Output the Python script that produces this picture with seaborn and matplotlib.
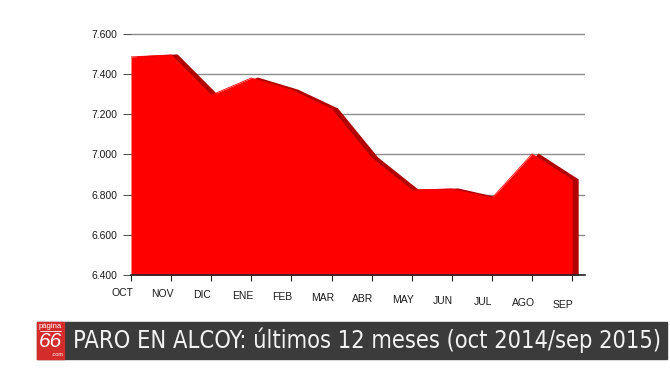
import numpy as np
import pandas as pd
import seaborn as sns
import matplotlib.pyplot as plt
import matplotlib.transforms as mtransforms
from matplotlib.patches import Rectangle

# data
meses = ["OCT", "NOV", "DIC", "ENE", "FEB", "MAR", "ABR", "MAY", "JUN", "JUL", "AGO", "SEP"]
parados = [7485, 7495, 7295, 7380, 7320, 7226, 6982, 6823, 6828, 6783, 7002, 6873]
yticks = [6400, 6600, 6800, 7000, 7200, 7400, 7600]
titulo = "PARO EN ALCOY: últimos 12 meses (oct 2014/sep 2015)"

df = pd.DataFrame({"mes": meses, "parados": parados})
df["i"] = np.arange(len(df))

# colors
red = "#FF0000"
darkred = "#B00000"
gridcol = "#8C8C8C"
bannercol = "#3B3B3B"

sns.set_style("white")
plt.rcParams['font.family'] = ['Liberation Sans', 'DejaVu Sans']

W, H = 670, 377
fig = plt.figure(figsize=(W / 100, H / 100), dpi=100)
# axes: x from 131 to 585 px, y from 275 (6400) up
ylo, yhi = 6400, 7650
px_per_unit = 40.2 / 200
top_px = 275 - (yhi - ylo) * px_per_unit
ax = fig.add_axes([131 / W, (H - 275) / H, (585 - 131) / W, (275 - top_px) / H])

# gridlines behind
for v in yticks:
    ax.axhline(v, color=gridcol, lw=1, zorder=0)

# depth face (shifted back)
ax.fill_between(df["i"] + 0.15, df["parados"] + 5, ylo, color=darkred, lw=0, zorder=1)
# front face
sns.lineplot(data=df, x="i", y="parados", color=red, lw=0.6, ax=ax, zorder=2)
ax.fill_between(df["i"], df["parados"], ylo, color=red, lw=0, zorder=2)

ax.set_xlim(0, 11.32)
ax.set_ylim(ylo, yhi)
ax.set_xlabel("")
ax.set_ylabel("")
ax.set_yticks(yticks)
ax.set_yticklabels([f"{v:,}".replace(",", ".") for v in yticks])
ax.set_xticks(df["i"])
ax.set_xticklabels(meses)
ax.tick_params(axis="y", length=6, width=0.8, color="#555555", pad=4, labelsize=7.5, labelcolor="#1A1A1A", direction="out", left=True)
ax.tick_params(axis="x", length=4, width=0.8, color="#222222", pad=5, labelsize=7.5, labelcolor="#1A1A1A", direction="out", bottom=True)
# labels drift down to the right, like the perspective in the original
for k, lab in enumerate(ax.get_xticklabels()):
    off = mtransforms.ScaledTranslation(-9 / 100, -(k * 1.1) / 100, fig.dpi_scale_trans)
    lab.set_transform(lab.get_transform() + off)

for s in ["top", "right", "left"]:
    ax.spines[s].set_visible(False)
ax.spines["bottom"].set_color("#222222")
ax.spines["bottom"].set_linewidth(1.2)
ax.spines["bottom"].set_zorder(3)

# banner
fig.patches.append(Rectangle((37 / W, (H - 359) / H), (667 - 37) / W, 37 / H,
                             transform=fig.transFigure, color=bannercol, zorder=0))
fig.patches.append(Rectangle((37 / W, (H - 359) / H), (64 - 37) / W, 37 / H,
                             transform=fig.transFigure, color="#D42B2B", zorder=1))
fig.text(50.5 / W, (H - 326) / H, "página", color="white", fontsize=5.5, ha="center", va="center")
fig.lines.append(plt.Line2D([40 / W, 61 / W], [(H - 330.5) / H] * 2, transform=fig.transFigure, color="white", lw=0.6))
fig.text(50.5 / W, (H - 341.5) / H, "66", color="white", fontsize=15, ha="center", va="center", style="italic")
fig.text(57 / W, (H - 355) / H, ".com", color="white", fontsize=4, ha="center", va="center")
t = fig.text(73 / W, (H - 340) / H, titulo, color="#F2F2F2", fontsize=22, ha="left", va="center",
             family=['DejaVu Sans'], stretch="condensed")

# shrink title to fit the banner width (~589 px)
fig.canvas.draw()
w = t.get_window_extent().width
if w > 589:
    t.set_fontsize(22 * 589 / w)

fig.savefig("out.png", dpi=100)
